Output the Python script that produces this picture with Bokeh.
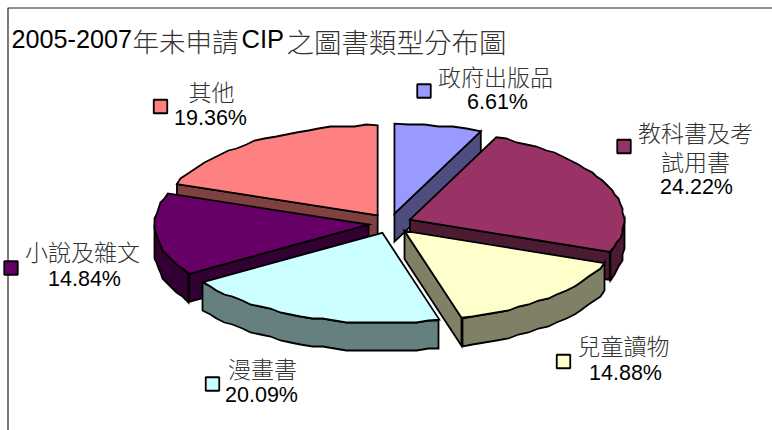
import numpy as np
from bokeh.plotting import figure
from bokeh.models import ColumnDataSource
from bokeh.core.properties import value
from bokeh.embed import file_html
from bokeh.resources import INLINE

# data
categories = ["政府出版品", "教科書及考試用書", "兒童讀物", "漫畫書", "小說及雜文", "其他"]
shares = [6.61, 24.22, 14.88, 20.09, 14.84, 19.36]
top_colors = ["#9999FF", "#993366", "#FFFFCC", "#CCFFFF", "#660066", "#FF8080"]
side_colors = ["#4D4D80", "#4D1A33", "#808066", "#668080", "#330033", "#804040"]
title_parts = ["2005-2007", "年未申請", "CIP", "之圖書類型分布圖"]
label_lines = [["政府出版品"], ["教科書及考", "試用書"], ["兒童讀物"], ["漫畫書"], ["小說及雜文"], ["其他"]]

# layout (pixel space of the picture)
W, H = 772, 430
CJK, LATIN = value("Noto Sans CJK TC Light"), value("Liberation Sans")
cx, cy, rx, ry, depth = 389.5, 223.0, 214.0, 90.0, 28.0
ex, ey = 21.6, 10.0
draw_order = [0, 5, 1, 4, 2, 3]
cjk_xy = [[(495, 75.5)], [(695, 131.5), (695, 160.5)], [(623, 344.5)], [(262, 367.5)], [(82, 250.5)], [(211, 90.5)]]
pct_xy = [(497, 101), (696, 186), (625, 372), (261, 394), (84, 278), (210, 117)]
key_xy = [(423.5, 90.5), (623.5, 146), (563, 361), (212, 383.5), (10.5, 267.5), (160, 106)]
title_xy = [(11, 38, 25.2), (132, 40, 26.5), (241, 38, 25.5), (286, 40, 27.5)]

p = figure(width=W, height=H, x_range=(0, W), y_range=(H, 0), toolbar_location=None,
           output_backend="svg", min_border=0, outline_line_color=None)
p.axis.visible = False
p.grid.visible = False
p.background_fill_color = "white"

p.line([7.5, 7.5, W], [H, 7.5, 7.5], line_color="#222222", line_width=1.2)

edges = np.radians(np.concatenate([[0], np.cumsum(shares)]) * 360 / sum(shares))


def wob(a):
    return np.round(np.asarray(a) / 2.0) * 2.0


xs, ys, fills = [], [], []
for i in draw_order:
    t0, t1 = edges[i], edges[i + 1]
    mid = (t0 + t1) / 2
    tx, ty = cx + ex * np.sin(mid), cy - ey * np.cos(mid)
    rim = lambda t: (tx + rx * np.sin(t), ty - ry * np.cos(t))
    if np.sin(t0) < 0:
        rx0, ry0 = rim(t0)
        xs.append([tx, rx0, rx0, tx]); ys.append([ty, ry0, ry0 + depth, ty + depth]); fills.append(side_colors[i])
    if np.sin(t1) > 0:
        rx1, ry1 = rim(t1)
        xs.append([tx, rx1, rx1, tx]); ys.append([ty, ry1, ry1 + depth, ty + depth]); fills.append(side_colors[i])
    a, b = max(t0, np.pi / 2), min(t1, 3 * np.pi / 2)
    if b > a:
        ts = np.linspace(a, b, max(3, int(np.degrees(b - a) / 3)))
        rxs, rys = rim(ts)
        rxs, rys = wob(rxs), wob(rys)
        xs.append(list(rxs) + list(rxs[::-1])); ys.append(list(rys) + list((rys + depth)[::-1])); fills.append(side_colors[i])
    ts = np.linspace(t0, t1, max(3, int(np.degrees(t1 - t0) / 3)))
    rxs, rys = rim(ts)
    rxs[1:-1], rys[1:-1] = wob(rxs[1:-1]), wob(rys[1:-1])
    xs.append([tx] + list(rxs)); ys.append([ty] + list(rys)); fills.append(top_colors[i])

p.patches("xs", "ys", source=ColumnDataSource(dict(xs=xs, ys=ys, fill=fills)),
          fill_color="fill", line_color="black", line_width=1.8, line_join="miter")

# legend keys
p.rect([k[0] for k in key_xy], [k[1] for k in key_xy], width=13.5, height=13.5,
       fill_color=top_colors, line_color="black", line_width=1.8)

# title
for part, (x, y, s) in zip(title_parts, title_xy):
    latin = part.isascii()
    p.text([x], [y], text=[part], text_font=LATIN if latin else CJK, text_font_size=f"{s}px",
           text_color="black" if latin else "#333333", text_align="left",
           text_baseline="alphabetic" if latin else "middle")

# labels
for lines, xys, v, pxy in zip(label_lines, cjk_xy, shares, pct_xy):
    for line, (x, y) in zip(lines, xys):
        p.text([x], [y], text=[line], text_font=CJK, text_font_size="23px", text_color="#333333",
               text_align="center", text_baseline="middle")
    p.text([pxy[0]], [pxy[1]], text=[f"{v:.2f}%"], text_font=LATIN, text_font_size="21.5px",
           text_color="black", text_align="center", text_baseline="alphabetic")

open("out.html", "w").write(file_html(p, INLINE))
